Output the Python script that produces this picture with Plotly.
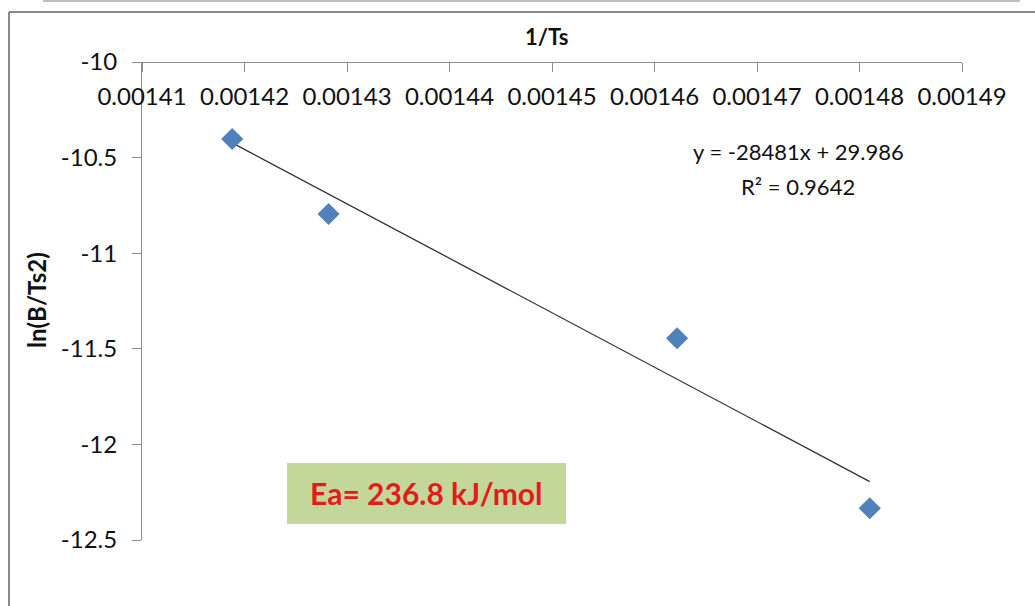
import plotly.graph_objects as go

# Kissinger plot data: reciprocal peak temperature vs ln(heating rate / Ts^2)
inv_ts = [0.0014188, 0.0014282, 0.0014622, 0.0014810]
ln_b_ts2 = [-10.403, -10.795, -11.445, -12.334]

# Linear fit reported on the chart
slope = -28481
intercept = 29.986
r_squared = 0.9642
activation_energy = 236.8  # kJ/mol

x_ticks = [0.00141, 0.00142, 0.00143, 0.00144, 0.00145, 0.00146, 0.00147, 0.00148, 0.00149]
y_ticks = [-10, -10.5, -11, -11.5, -12, -12.5]

W, H = 1035, 606
FONT = "Lato"
INK = "#111111"
AXIS = "#8c8c8c"

# plot area in pixels
px_left, px_right = 142, 962
px_top, px_bottom = 62, 540

fit_x = [min(inv_ts), max(inv_ts)]
fit_y = [slope * v + intercept for v in fit_x]

fig = go.Figure()
fig.add_trace(go.Scatter(
    x=fit_x, y=fit_y, mode="lines",
    line=dict(color="#333333", width=1.3),
    hoverinfo="skip", showlegend=False,
))
fig.add_trace(go.Scatter(
    x=inv_ts, y=ln_b_ts2, mode="markers",
    marker=dict(symbol="diamond", size=17, color="#4F81BD"),
    showlegend=False,
))

# x axis sits at the top edge (y = -10) with its labels hanging below the line
fig.update_layout(
    width=W, height=H,
    margin=dict(l=0, r=0, t=0, b=0, autoexpand=False),
    paper_bgcolor="white", plot_bgcolor="white",
    font=dict(family=FONT, color=INK),
    xaxis=dict(
        domain=[px_left / W, px_right / W],
        range=[x_ticks[0], x_ticks[-1]],
        anchor="free", position=1 - px_top / H, side="bottom",
        tickvals=x_ticks,
        ticktext=[f"{v:.5f}" for v in x_ticks],
        ticks="outside", ticklen=9, tickcolor=AXIS, tickwidth=1,
        ticklabelstandoff=4,
        tickfont=dict(size=24, family=FONT, color=INK),
        showline=True, linecolor=AXIS, linewidth=1,
        showgrid=False, zeroline=False, automargin=False,
    ),
    yaxis=dict(
        domain=[1 - px_bottom / H, 1 - px_top / H],
        range=[y_ticks[-1], y_ticks[0]],
        tickvals=y_ticks,
        ticktext=[f"{v:g}" for v in y_ticks],
        ticks="outside", ticklen=9, tickcolor=AXIS, tickwidth=1,
        ticklabelstandoff=10,
        tickfont=dict(size=24, family=FONT, color=INK),
        showline=True, linecolor=AXIS, linewidth=1,
        showgrid=False, zeroline=False, automargin=False,
    ),
)


def label(x_px, y_px, text, size, color=INK, angle=0):
    fig.add_annotation(
        x=x_px / W, y=1 - y_px / H, xref="paper", yref="paper",
        xanchor="center", yanchor="middle",
        text=text, showarrow=False, textangle=angle,
        font=dict(size=size, family=FONT, color=color),
    )


# axis titles
label(546, 36, "<b>1/Ts</b>", 22)
label(36, 300, "<b>ln(B/Ts2)</b>", 24, angle=-90)

# regression equation and R²
label(798, 152, f"y = {slope}x + {intercept}", 22)
label(798, 186, f"R² = {r_squared}", 22)

# activation energy callout
fig.add_shape(
    type="rect", xref="paper", yref="paper",
    x0=287 / W, x1=566 / W, y0=1 - 524 / H, y1=1 - 463 / H,
    fillcolor="#C4D79B", line=dict(width=0), layer="below",
)
label((287 + 566) / 2, 493, f"<b>Ea= {activation_energy} kJ/mol</b>", 30, color="#E31B1B")

# chart frame
fig.add_shape(type="line", xref="paper", yref="paper",
              x0=9 / W, x1=1.0, y0=1 - 12 / H, y1=1 - 12 / H,
              line=dict(color="#888888", width=2))
fig.add_shape(type="line", xref="paper", yref="paper",
              x0=9 / W, x1=9 / W, y0=0, y1=1 - 12 / H,
              line=dict(color="#888888", width=2))
fig.add_shape(type="line", xref="paper", yref="paper",
              x0=43 / W, x1=1020 / W, y0=1 - 1 / H, y1=1 - 1 / H,
              line=dict(color="#aaaaaa", width=1.5))

fig.write_html("out.html")
